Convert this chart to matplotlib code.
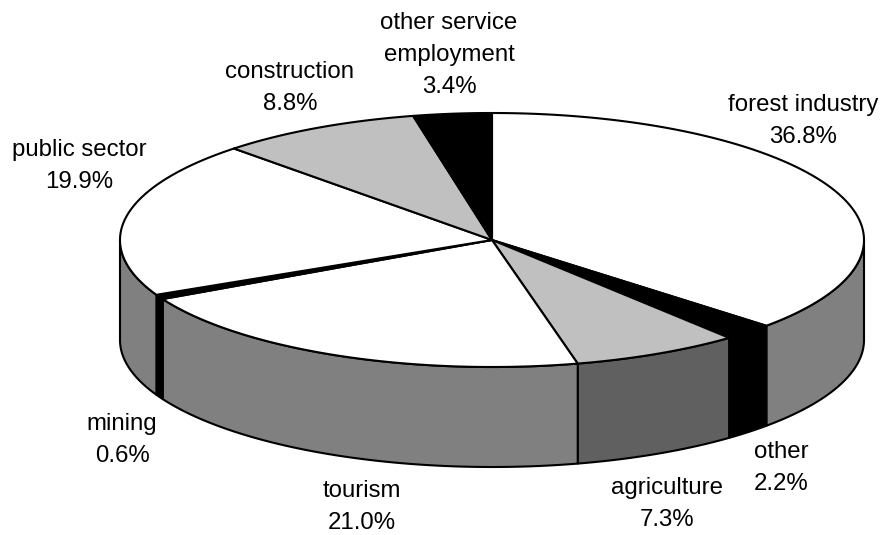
import numpy as np
import matplotlib
matplotlib.use('Agg')
import matplotlib.pyplot as plt
from matplotlib.patches import Polygon

# sectors clockwise from 12 o'clock
sectors = ['forest industry', 'other', 'agriculture', 'tourism', 'mining',
           'public sector', 'construction', 'other service\nemployment']
shares = [36.8, 2.2, 7.3, 21.0, 0.6, 19.9, 8.8, 3.4]

top_colors = ['white', 'black', '#c0c0c0', 'white', 'black', 'white', '#c0c0c0', 'black']
side_colors = ['#808080', 'black', '#606060', '#808080', 'black', '#808080', '#606060', 'black']

# label centre in pixels
label_xy = [(803, 121), (781, 468), (667, 504), (362, 507), (122, 440),
            (79, 166), (290, 88), (449, 55)]

cx, cy = 492, 240
rx, ry = 372, 127
depth = 100

fig = plt.figure(figsize=(8.8, 5.35), dpi=100)
ax = fig.add_axes([0, 0, 1, 1])
ax.set_xlim(0, 880)
ax.set_ylim(535, 0)
ax.axis('off')


def rim(a, b):
    t = np.radians(np.linspace(a, b, 120))
    return cx + rx * np.sin(t), cy - ry * np.cos(t)


edges = np.concatenate([[0], np.cumsum(shares)]) * 3.6
edges[-1] = 360

# outer wall, only the part facing the viewer
for i in range(len(shares)):
    a, b = max(edges[i], 90), min(edges[i + 1], 270)
    if a >= b:
        continue
    x, y = rim(a, b)
    pts = np.column_stack([np.r_[x, x[::-1]], np.r_[y, y[::-1] + depth]])
    ax.add_patch(Polygon(pts, closed=True, fc=side_colors[i], ec='black', lw=1.5, joinstyle='round'))

# top face
for i in range(len(shares)):
    x, y = rim(edges[i], edges[i + 1])
    pts = np.column_stack([np.r_[cx, x], np.r_[cy, y]])
    ax.add_patch(Polygon(pts, closed=True, fc=top_colors[i], ec='black', lw=1.5, joinstyle='round'))

for name, val, (lx, ly) in zip(sectors, shares, label_xy):
    ax.text(lx, ly, f'{name}\n{val:.1f}%', ha='center', va='center', fontsize=17.3,
            family=['Liberation Sans', 'DejaVu Sans'], linespacing=1.6, color='black')

fig.savefig('out.png', dpi=100)
